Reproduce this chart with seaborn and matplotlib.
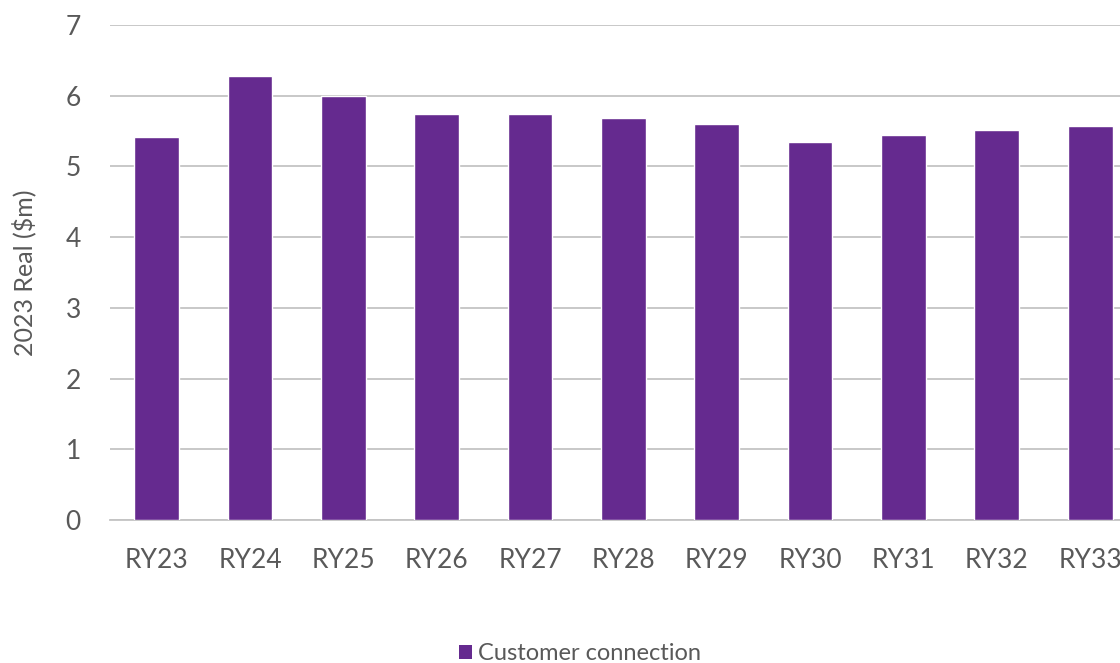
import matplotlib
matplotlib.use("Agg")
import matplotlib.pyplot as plt
import seaborn as sns
import pandas as pd
from matplotlib.patches import Patch

# Customer connection expenditure by regulatory year (2023 real, $m)
years = ["RY23", "RY24", "RY25", "RY26", "RY27", "RY28", "RY29", "RY30", "RY31", "RY32", "RY33"]
values = [5.42, 6.28, 6.00, 5.74, 5.74, 5.68, 5.60, 5.35, 5.44, 5.51, 5.57]
series_name = "Customer connection"
y_ticks = [0, 1, 2, 3, 4, 5, 6, 7]

bar_color = "#652A8F"
text_color = "#595959"
grid_color = "#C4C4C4"

sns.set_theme(style="white")
plt.rcParams["font.family"] = ["Lato", "DejaVu Sans"]

df = pd.DataFrame({"year": years, "value": values})

fig = plt.figure(figsize=(11.2, 6.63), dpi=100)
ax = fig.add_axes([110 / 1120, 143 / 663, 1010 / 1120, 495 / 663])

sns.barplot(data=df, x="year", y="value", color=bar_color, width=0.48,
            saturation=1, ax=ax, zorder=3)

ax.set_ylim(0, 7)
ax.set_xlim(-0.5, 10.32)
ax.set_yticks(y_ticks)
ax.yaxis.grid(True, color=grid_color, linewidth=1.3, zorder=0)
ax.xaxis.grid(False)
for side in ["top", "right", "left"]:
    ax.spines[side].set_visible(False)
ax.spines["bottom"].set_color(grid_color)
ax.spines["bottom"].set_linewidth(1.3)

ax.tick_params(axis="both", length=0, labelsize=19, labelcolor=text_color)
ax.tick_params(axis="x", pad=20)
ax.tick_params(axis="y", pad=21)
ax.set_xlabel("")
ax.set_ylabel("2023 Real ($m)", fontsize=18, color=text_color, labelpad=21)

handles = [Patch(facecolor=bar_color, edgecolor="none", label=series_name)]
fig.legend(handles=handles, loc="center", bbox_to_anchor=(580 / 1120, 1 - 654 / 663),
           frameon=False, fontsize=17, handlelength=0.55, handleheight=0.55,
           handletextpad=0.25, labelcolor=text_color)

fig.savefig("out.png", dpi=100)
